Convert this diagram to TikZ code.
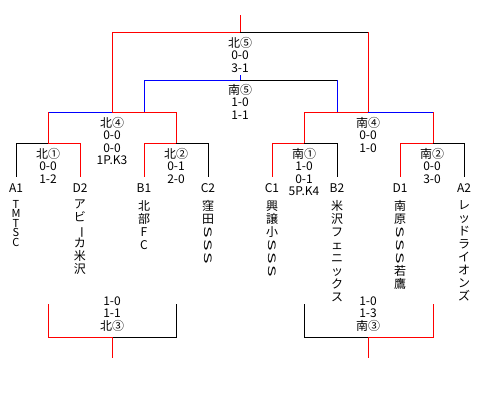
\documentclass[tikz,border=0pt]{standalone}
\usepackage{fontspec}
\usepackage{graphicx}
\newfontfamily\jp{Noto Sans CJK JP}
\newcommand\rs{\rotatebox[origin=c]{-90}{\scalebox{1.6}[0.85]{S}}}
\newcommand\rch{\rotatebox[origin=c]{-90}{ー}}
\tikzset{
  rd/.style={draw=red, line width=1pt, line cap=rect},
  bl/.style={draw=blue, line width=1pt, line cap=rect},
  bk/.style={draw=black, line width=1pt, line cap=rect},
  lbl/.style={font=\jp\fontsize{12}{12.5}\selectfont, align=center, inner sep=0pt, anchor=north},
  code/.style={font=\jp\fontsize{12}{12}\selectfont, inner sep=0pt},
  team/.style={font=\jp\fontsize{12}{13}\selectfont, align=center, inner sep=0pt, anchor=north},
}
\begin{document}
\begin{tikzpicture}[x=1pt,y=-1pt]
\useasboundingbox[fill=white] (0,0) rectangle (480,400);
% coordinates
\coordinate (top) at (240,15);
\coordinate (f) at (240,32);
\coordinate (fL) at (112,32);
\coordinate (fR) at (368,32);
\coordinate (s0) at (240,75);
\coordinate (s) at (240,80);
\coordinate (sL) at (144,80);
\coordinate (sR) at (337,80);
\coordinate (nA) at (48,112);
\coordinate (nM) at (112,112);
\coordinate (nS) at (144,112);
\coordinate (nB) at (176,112);
\coordinate (mA) at (304,112);
\coordinate (mS) at (337,112);
\coordinate (mM) at (368,112);
\coordinate (mB) at (433,112);
\foreach \n/\x in {a/16,b/48,c/80,d/144,e/176,g/208,h/272,i/304,j/337,k/400,l/433,m/464}{
  \coordinate (r\n) at (\x,143);
}
\foreach \n/\x in {a/16,c/80,d/144,g/208,h/272,j/337,k/400,m/464}{
  \coordinate (v\n) at (\x,176);
}
\coordinate (bLa) at (48,304);
\coordinate (bLb) at (176,304);
\coordinate (bLc) at (48,337);
\coordinate (bLm) at (112,337);
\coordinate (bLd) at (176,337);
\coordinate (bLs) at (112,357);
\coordinate (bRa) at (304,304);
\coordinate (bRb) at (433,304);
\coordinate (bRc) at (304,337);
\coordinate (bRm) at (368,337);
\coordinate (bRd) at (433,337);
\coordinate (bRs) at (368,357);

% final
\draw[rd] (top) -- (f);
\draw[rd] (fL) -- (f);
\draw[bk] (f) -- (fR);
\draw[rd] (fL) -- (nM);
\draw[rd] (fR) -- (mM);
% 3rd place
\draw[bl] (s0) -- (s);
\draw[bl] (sL) -- (s);
\draw[bk] (s) -- (sR);
\draw[bl] (sL) -- (nS);
\draw[bl] (sR) -- (mS);
% semis
\draw[bl] (nA) -- (nM);
\draw[rd] (nM) -- (nB);
\draw[rd] (mA) -- (mM);
\draw[bl] (mM) -- (mB);
\draw[rd] (nA) -- (rb);
\draw[rd] (nB) -- (re);
\draw[rd] (mA) -- (ri);
\draw[rd] (mB) -- (rl);
% first round
\draw[bk] (ra) -- (rb);
\draw[rd] (rb) -- (rc);
\draw[rd] (rd) -- (re);
\draw[bk] (re) -- (rg);
\draw[rd] (rh) -- (ri);
\draw[bk] (ri) -- (rj);
\draw[rd] (rk) -- (rl);
\draw[bk] (rl) -- (rm);
\draw[bk] (ra) -- (va);
\draw[rd] (rc) -- (vc);
\draw[rd] (rd) -- (vd);
\draw[bk] (rg) -- (vg);
\draw[rd] (rh) -- (vh);
\draw[bk] (rj) -- (vj);
\draw[rd] (rk) -- (vk);
\draw[bk] (rm) -- (vm);
% lower brackets
\draw[rd] (bLa) -- (bLc);
\draw[bk] (bLb) -- (bLd);
\draw[rd] (bLc) -- (bLm);
\draw[bk] (bLm) -- (bLd);
\draw[rd] (bLm) -- (bLs);
\draw[bk] (bRa) -- (bRc);
\draw[rd] (bRb) -- (bRd);
\draw[bk] (bRc) -- (bRm);
\draw[rd] (bRm) -- (bRd);
\draw[rd] (bRm) -- (bRs);

% match labels
\node[lbl] (L5n) at (240,37) {北⑤\\0-0\\3-1};
\node[lbl] (L5s) at (240,84) {南⑤\\1-0\\1-1};
\node[lbl] (L4n) at (112,117) {北④\\0-0\\0-0\\1P.K3};
\node[lbl] (L4s) at (368,117) {南④\\0-0\\1-0};
\node[lbl] (L1n) at (48,148) {北①\\0-0\\1-2};
\node[lbl] (L2n) at (176,148) {北②\\0-1\\2-0};
\node[lbl] (L1s) at (304,148) {南①\\1-0\\0-1\\5P.K4};
\node[lbl] (L2s) at (432,148) {南②\\0-0\\3-0};
\node[lbl] (L3n) at (112,296.5) {1-0\\1-1\\北③};
\node[lbl] (L3s) at (368,296.5) {1-0\\1-3\\南③};

% team codes
\node[code] (cA1) at (16,188) {A1};
\node[code] (cD2) at (80,188) {D2};
\node[code] (cB1) at (144,188) {B1};
\node[code] (cC2) at (208,188) {C2};
\node[code] (cC1) at (272,188) {C1};
\node[code] (cB2) at (337,188) {B2};
\node[code] (cD1) at (400,188) {D1};
\node[code] (cA2) at (464,188) {A2};

% team names
\node[team, font=\jp\fontsize{11}{9.5}\selectfont] (tA1) at (16,200) {T\\M\\T\\S\\C};
\node[team] (tD2) at (80,200) {ア\\ビ\\\rch\\カ\\米\\沢};
\node[team] (tB1) at (144,200) {北\\部\\F\\C};
\node[team] (tC2) at (208,200) {窪\\田\\\rs\\\rs\\\rs};
\node[team] (tC1) at (272,200) {興\\譲\\小\\\rs\\\rs\\\rs};
\node[team] (tB2) at (337,200) {米\\沢\\フ\\ェ\\ニ\\ッ\\ク\\ス};
\node[team] (tD1) at (400,200) {南\\原\\\rs\\\rs\\\rs\\若\\鷹};
\node[team] (tA2) at (464,200) {レ\\ッ\\ド\\ラ\\イ\\オ\\ン\\ズ};
\end{tikzpicture}
\end{document}
